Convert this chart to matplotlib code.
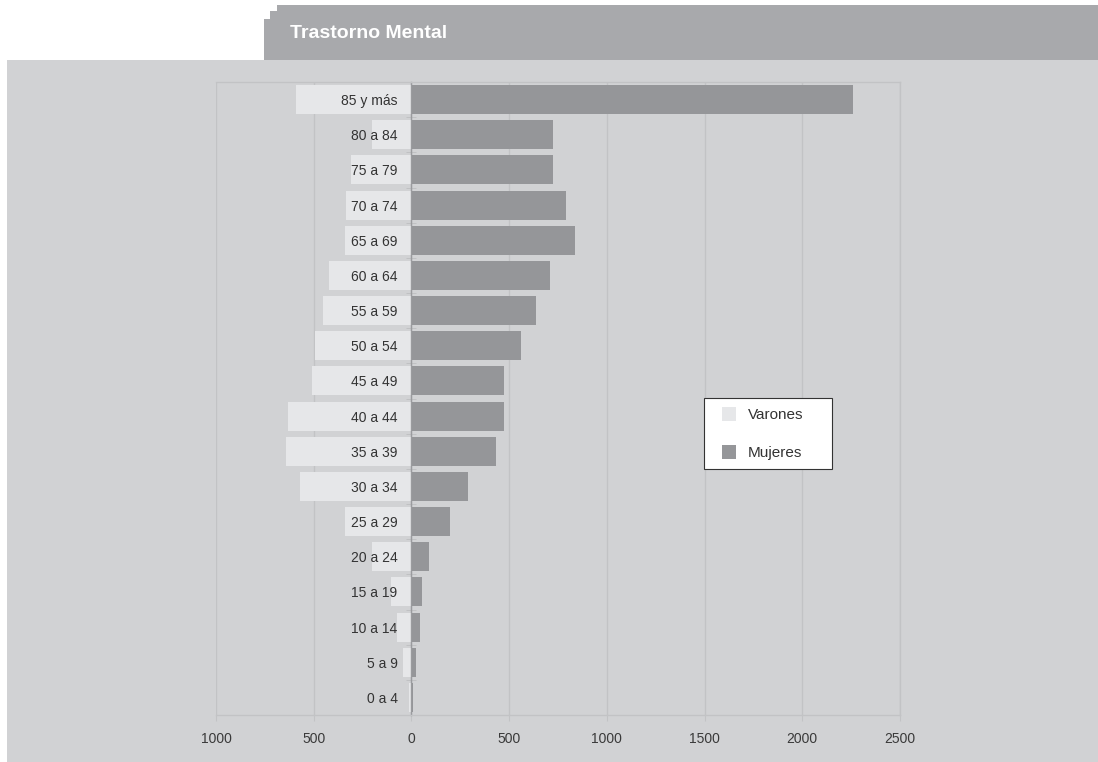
import matplotlib
matplotlib.use("Agg")
import matplotlib.pyplot as plt
from matplotlib.patches import Rectangle, Polygon
from matplotlib.ticker import FixedLocator, FuncFormatter
from matplotlib.legend_handler import HandlerPatch
from matplotlib import font_manager
import numpy as np

_names = {f.name for f in font_manager.fontManager.ttflist}
_narrow = 'Liberation Sans Narrow' in _names
plt.rcParams['font.family'] = (['Liberation Sans Narrow'] if _narrow else []) + ['Liberation Sans', 'DejaVu Sans']
k = 1.2 if _narrow else 1.0

# ---- data ----
categories = ['0 a 4', '5 a 9', '10 a 14', '15 a 19', '20 a 24', '25 a 29',
              '30 a 34', '35 a 39', '40 a 44', '45 a 49', '50 a 54', '55 a 59',
              '60 a 64', '65 a 69', '70 a 74', '75 a 79', '80 a 84', '85 y más']
varones = [12, 44, 75, 105, 203, 341, 572, 640, 630, 510, 495, 450,
           420, 340, 335, 310, 200, 592]
mujeres = [8, 23, 44, 54, 90, 198, 290, 433, 474, 474, 561, 638,
           710, 838, 792, 725, 725, 2260]
x_ticks = [-1000, -500, 0, 500, 1000, 1500, 2000, 2500]
series_names = ['Varones', 'Mujeres']
title = 'Trastorno Mental'

W, H = 1098, 762
fig = plt.figure(figsize=(W / 100, H / 100), dpi=100, facecolor='white')

def fx(px):
    return px / W

def fy(py):
    return 1 - py / H

# background panel
fig.patches.append(Rectangle((fx(7), 0), fx(W - 7), fy(60), transform=fig.transFigure,
                             facecolor='#d1d2d4', edgecolor='none', zorder=-2))
# title tab
tab_px = [(264, 60), (264, 19), (270, 19), (270, 11), (277, 11), (277, 5), (W, 5), (W, 60)]
fig.patches.append(Polygon([(fx(a), fy(b)) for a, b in tab_px], closed=True,
                           transform=fig.transFigure, facecolor='#a8a9ac',
                           edgecolor='none', zorder=-2))
fig.text(fx(290), fy(33), title, color='white', fontsize=14 * (1.1 if _narrow else 1.0),
         fontweight='bold', va='center', ha='left')

ax = fig.add_axes([fx(216), fy(715), fx(684), (715 - 82) / H])
ax.set_zorder(1)
ax.set_facecolor('none')

y = np.arange(len(categories))
b1 = ax.barh(y, -np.array(varones), height=0.82, color='#e6e7e9', label=series_names[0], zorder=1)
b2 = ax.barh(y, mujeres, height=0.82, color='#959699', label=series_names[1], zorder=1)

ax.set_xlim(x_ticks[0], x_ticks[-1])
ax.set_ylim(-0.5, len(categories) - 0.5)

grid_c = '#c2c3c5'
for t in x_ticks:
    ax.axvline(t, color=grid_c, lw=1.0, zorder=0.5)

ax.xaxis.set_major_locator(FixedLocator(x_ticks))
ax.xaxis.set_major_formatter(FuncFormatter(lambda v, p: f'{abs(int(v))}'))
ax.tick_params(axis='x', direction='out', length=4, color=grid_c, labelsize=10 * k,
               labelcolor='#3a3a3a', pad=8)

for s in ['top', 'right', 'bottom']:
    ax.spines[s].set_color(grid_c)
    ax.spines[s].set_linewidth(1.0)
ax.spines['left'].set_position(('data', 0))
ax.spines['left'].set_color('#9a9b9e')
ax.spines['left'].set_linewidth(1.0)

ax.set_yticks(y)
ax.set_yticklabels(categories)
ax.set_yticks(np.arange(len(categories) + 1) - 0.5, minor=True)
ax.tick_params(axis='y', which='major', length=0, pad=10, labelsize=10 * k, labelcolor='#333333')
ax.tick_params(axis='y', which='minor', direction='inout', length=7, color='#bdbec0')


def square_right(legend, orig_handle, xdescent, ydescent, width, height, fontsize):
    side = height
    return Rectangle((-xdescent + width - side, -ydescent), side, side)


h1, h2 = b1.patches[0], b2.patches[0]
hm = {h1: HandlerPatch(patch_func=square_right), h2: HandlerPatch(patch_func=square_right)}
leg = ax.legend(handles=[h1, h2], labels=series_names, handler_map=hm,
                loc='upper left', bbox_to_anchor=(fx(704), fy(469), fx(128), (469 - 398) / H),
                bbox_transform=fig.transFigure, mode='expand', borderaxespad=0,
                fontsize=11 * k, handlelength=1.5, handleheight=1.05, handletextpad=0.75,
                labelspacing=1.45, borderpad=0.6, fancybox=False, framealpha=1,
                edgecolor='#333333', facecolor='white')
leg.get_frame().set_linewidth(0.8)
for t in leg.get_texts():
    t.set_color('#333333')

fig.savefig('out.png', dpi=100, facecolor='white')
